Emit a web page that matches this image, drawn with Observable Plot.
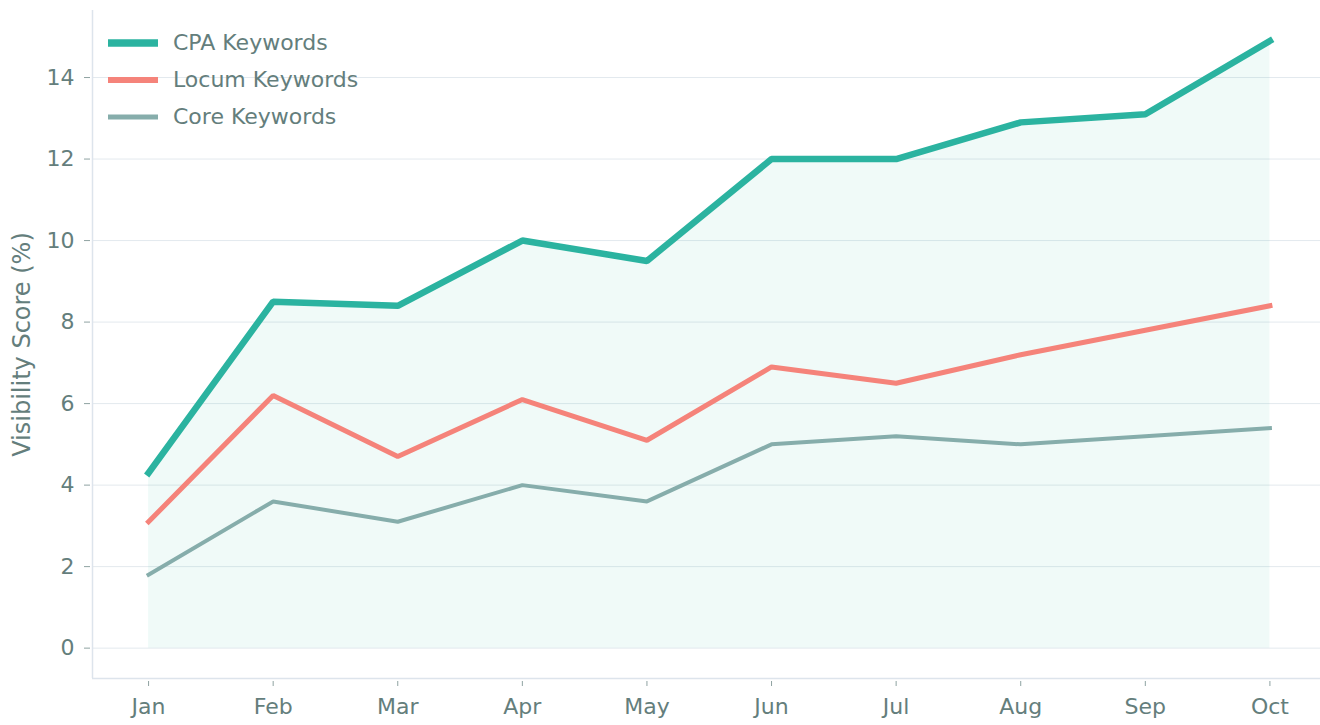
<!DOCTYPE html>
<html>
<head>
<meta charset="utf-8">
<script src="https://cdn.jsdelivr.net/npm/d3@7"></script>
<script src="https://cdn.jsdelivr.net/npm/@observablehq/plot@0.6"></script>
<style>
  html, body { margin: 0; padding: 0; background: #fff; }
  #wrap { position: relative; width: 1320px; height: 725px; font-family: "DejaVu Sans", sans-serif; }
  #legend { position: absolute; left: 108px; top: 24px; }
  .item { display: flex; align-items: center; height: 37px; }
  .item span { font-size: 22px; color: #647e7c; margin-left: 15px; line-height: 37px; }
</style>
</head>
<body>
<div id="wrap"><div id="legend"></div></div>
<script>
const months = ["Jan","Feb","Mar","Apr","May","Jun","Jul","Aug","Sep","Oct"];
const cpa   = [4.3, 8.5, 8.4, 10.0, 9.5, 12.0, 12.0, 12.9, 13.1, 14.9];
const locum = [3.1, 6.2, 4.7, 6.1, 5.1, 6.9, 6.5, 7.2, 7.8, 8.4];
const core  = [1.8, 3.6, 3.1, 4.0, 3.6, 5.0, 5.2, 5.0, 5.2, 5.4];
const yTicks = [0, 2, 4, 6, 8, 10, 12, 14];
const seriesNames = ["CPA Keywords", "Locum Keywords", "Core Keywords"];
const seriesColors = ["#2bb3a0", "#f5837a", "#86adab"];
const seriesWidths = [6.5, 5, 4];

const idx = months.map((_, i) => i);
const rows = idx.map(i => ({i, cpa: cpa[i], locum: locum[i], core: core[i]}));

const xDom = [-0.45, 9.406];
const yDom = [-0.745, 15.645];
const textColor = "#647e7c";

const chart = Plot.plot({
  width: 1320,
  height: 725,
  marginLeft: 92,
  marginRight: 0,
  marginTop: 10,
  marginBottom: 47,
  style: { fontFamily: "DejaVu Sans, sans-serif", fontSize: "22px", color: textColor, background: "#fff" },
  x: { type: "linear", domain: xDom },
  y: { domain: yDom },
  marks: [
    Plot.gridY(yTicks, { stroke: "#e3e9ee", strokeOpacity: 1, strokeWidth: 1 }),
    Plot.areaY(rows, { x: "i", y: "cpa", fill: seriesColors[0], fillOpacity: 0.07 }),
    Plot.ruleX([xDom[0]], { stroke: "#dde4ec", strokeWidth: 1.5 }),
    Plot.ruleY([yDom[0]], { stroke: "#dde4ec", strokeWidth: 1.5 }),
    Plot.line(rows, { x: "i", y: "core", stroke: seriesColors[2], strokeWidth: seriesWidths[2], strokeLinecap: "square", strokeLinejoin: "miter" }),
    Plot.line(rows, { x: "i", y: "locum", stroke: seriesColors[1], strokeWidth: seriesWidths[1], strokeLinecap: "square", strokeLinejoin: "miter" }),
    Plot.line(rows, { x: "i", y: "cpa", stroke: seriesColors[0], strokeWidth: seriesWidths[0], strokeLinecap: "square", strokeLinejoin: "miter" }),
    Plot.axisY(yTicks, { anchor: "left", tickSize: 6, dx: -2, tickPadding: 10, stroke: "#8fa3a2", fill: textColor, fontSize: 22, label: null }),
    Plot.axisX(idx, { anchor: "bottom", tickSize: 5, dy: 3, tickPadding: 12, tickFormat: i => months[i], stroke: "#8fa3a2", fill: textColor, fontSize: 22, label: null }),
    Plot.text(["Visibility Score (%)"], { frameAnchor: "left", textAnchor: "middle", rotate: -90, dx: -70, fill: textColor, fontSize: 24 })
  ]
});
document.getElementById("wrap").prepend(chart);

const legend = document.getElementById("legend");
seriesNames.forEach((n, k) => {
  const item = document.createElement("div");
  item.className = "item";
  item.innerHTML = `<svg width="50" height="10"><line x1="0" x2="50" y1="5" y2="5" stroke="${seriesColors[k]}" stroke-width="${seriesWidths[k] + 1}"/></svg><span>${n}</span>`;
  legend.appendChild(item);
});
</script>
</body>
</html>
